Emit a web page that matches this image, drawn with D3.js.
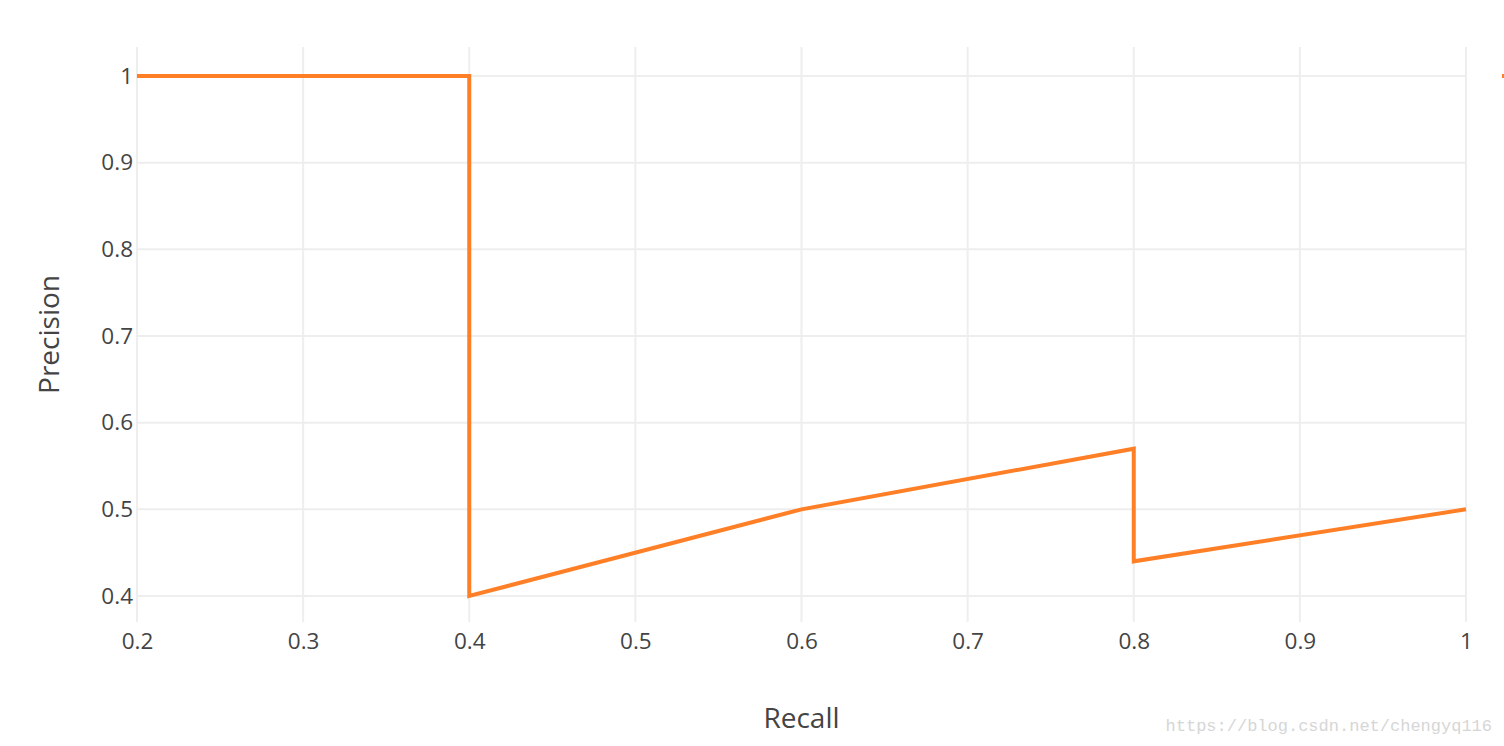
<!DOCTYPE html>
<html><head><meta charset="utf-8">
<script src="https://cdn.jsdelivr.net/npm/d3@7"></script>
<style>
body{margin:0;background:#fff;}
text{font-family:"Open Sans",sans-serif;fill:#444;}
</style></head><body>
<svg id="c" width="1504" height="746"></svg>
<script>
const recall = [0.2, 0.4, 0.4, 0.6, 0.8, 0.8, 1.0];
const precision = [1.0, 1.0, 0.4, 0.5, 0.57, 0.44, 0.5];
const xTicks = [0.2, 0.3, 0.4, 0.5, 0.6, 0.7, 0.8, 0.9, 1];
const yTicks = [0.4, 0.5, 0.6, 0.7, 0.8, 0.9, 1];
const xLabel = "Recall", yLabel = "Precision";

(function () {
const svg = d3.select("#c");
const mL = 137, mR = 1466, mT = 47, mB = 622;
const x = d3.scaleLinear().domain([0.2, 1]).range([mL, mR]);
const y = d3.scaleLinear().domain([0.4, 1]).range([596, 76]);
const fmt = d => (d === 1 ? "1" : d3.format(".1f")(d));

svg.append("g").selectAll("line").data(xTicks).join("line")
  .attr("x1", d => x(d)).attr("x2", d => x(d)).attr("y1", mT).attr("y2", mB)
  .attr("stroke", "#eee").attr("stroke-width", 2);
svg.append("g").selectAll("line").data(yTicks).join("line")
  .attr("y1", d => y(d)).attr("y2", d => y(d)).attr("x1", mL).attr("x2", mR)
  .attr("stroke", "#eee").attr("stroke-width", 2);

const xa = svg.append("g").attr("transform", `translate(0,${mB})`)
  .call(d3.axisBottom(x).tickValues(xTicks).tickFormat(fmt).tickSize(0).tickPadding(11));
xa.select(".domain").remove();
xa.selectAll("text").attr("font-size", 22.5).attr("fill", "#444");
const ya = svg.append("g").attr("transform", `translate(${mL},0)`)
  .call(d3.axisLeft(y).tickValues(yTicks).tickFormat(fmt).tickSize(0).tickPadding(4));
ya.select(".domain").remove();
ya.selectAll("text").attr("font-size", 22.5).attr("fill", "#444");

const pts = recall.map((r, i) => [r, precision[i]]);
svg.append("path").datum(pts)
  .attr("d", d3.line().x(d => x(d[0])).y(d => y(d[1])))
  .attr("fill", "none").attr("stroke", "#ff7f27").attr("stroke-width", 4)
  .attr("stroke-linejoin", "miter");

svg.append("line").attr("x1", 1502).attr("x2", 1510).attr("y1", y(1)).attr("y2", y(1))
  .attr("stroke", "#ff7f27").attr("stroke-width", 4);

svg.append("text").attr("x", (mL + mR) / 2).attr("y", 728)
  .attr("text-anchor", "middle").attr("font-size", 28).text(xLabel);
svg.append("text").attr("transform", `translate(59,${(mT + mB) / 2}) rotate(-90)`)
  .attr("text-anchor", "middle").attr("font-size", 28).text(yLabel);

svg.append("text").attr("x", 1492).attr("y", 731).attr("text-anchor", "end")
  .style("font-family", "'Liberation Mono', monospace").attr("font-size", 17)
  .style("fill", "#d6d6d6").text("https://blog.csdn.net/chengyq116");
})();
</script></body></html>
